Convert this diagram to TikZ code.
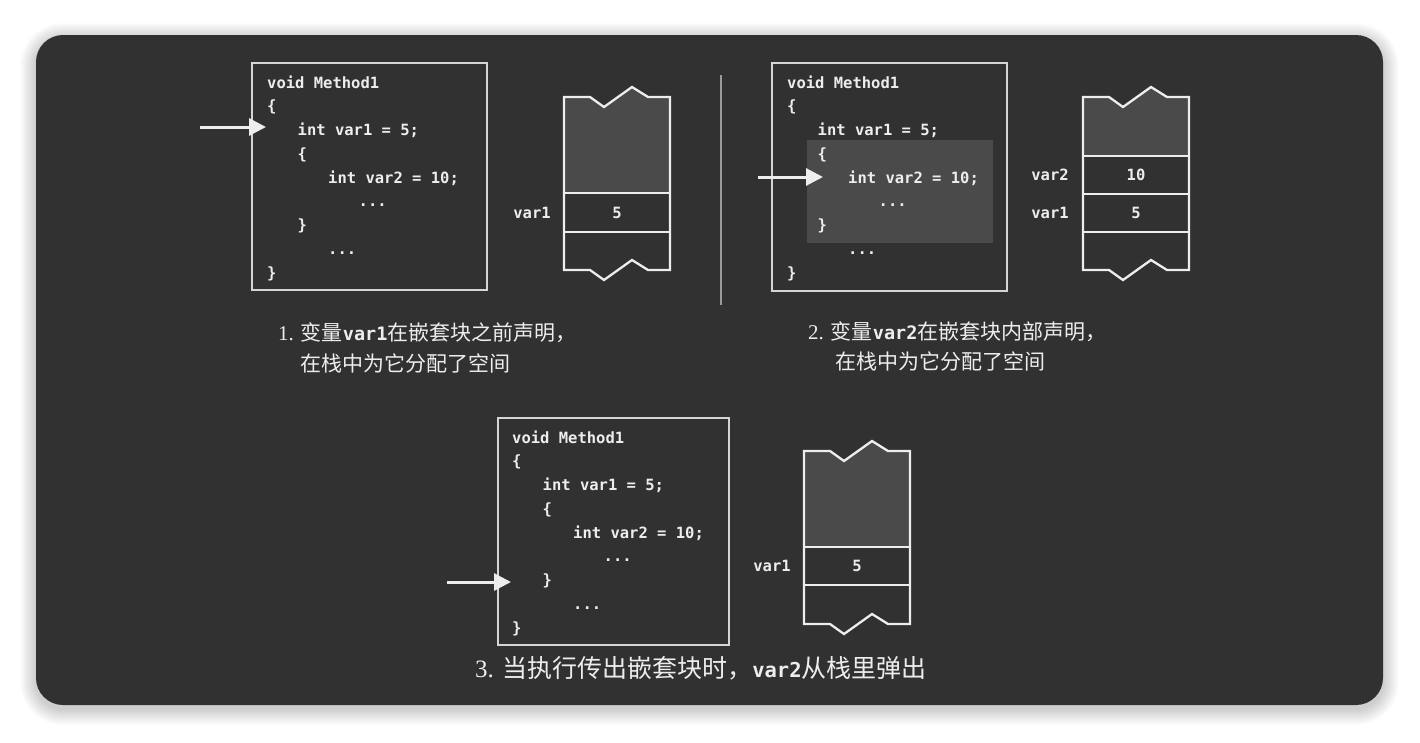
\documentclass[tikz,border=0pt]{standalone}
\usepackage{fontspec}
\setmainfont{Liberation Serif}
\setmonofont{DejaVu Sans Mono}
\newfontfamily\cjk{Noto Sans CJK SC}
\usetikzlibrary{arrows.meta}
\definecolor{bgdark}{HTML}{313131}
\definecolor{stackgray}{HTML}{4A4A4A}
\definecolor{ink}{HTML}{EDEDED}
\definecolor{sepgray}{HTML}{9A9A9A}

% code block: #1 prefix, #2 x of text, #3 y centre of first line
\newcommand\codeblock[3]{%
  \node[code] (#1l1) at (#2, #3+6) {void Method1};
  \node[code] (#1l2) at (#2, #3+6+23.75) {\{};
  \node[code] (#1l3) at (#2+30.5, #3+6+47.5) {int var1 = 5;};
  \node[code] (#1l4) at (#2+30.5, #3+6+71.25) {\{};
  \node[code] (#1l5) at (#2+61, #3+6+95) {int var2 = 10;};
  \node[code] (#1l6) at (#2+91.5, #3+6+118.75) {...};
  \node[code] (#1l7) at (#2+30.5, #3+6+142.5) {\}};
  \node[code] (#1l8) at (#2+61, #3+6+166.25) {...};
  \node[code] (#1l9) at (#2, #3+6+190) {\}};
}
% stack: #1 left x, #2 top y, #3 bottom of grey area
\newcommand\stackfig[3]{%
  \fill[stackgray] (#1,#2) -- (#1+26,#2) -- (#1+40,#2+10) -- (#1+68,#2-10) -- (#1+84,#2)
     -- (#1+106,#2) -- (#1+106,#3) -- (#1,#3) -- cycle;
  \draw[stackline] (#1,#2) -- (#1+26,#2) -- (#1+40,#2+10) -- (#1+68,#2-10) -- (#1+84,#2)
     -- (#1+106,#2) -- (#1+106,#2+173) -- (#1+84,#2+173) -- (#1+68,#2+163) -- (#1+40,#2+183)
     -- (#1+26,#2+173) -- (#1,#2+173) -- cycle;
}

\begin{document}
\begin{tikzpicture}[x=1pt,y=-1pt,
  code/.style={anchor=base west, inner sep=0pt, text=ink, font=\ttfamily\bfseries\fontsize{15.5}{15.5}\selectfont},
  lbl/.style={inner sep=0pt, text=ink, font=\ttfamily\bfseries\fontsize{15.5}{15.5}\selectfont},
  codebox/.style={draw=ink!90!black, line width=1.8pt, inner sep=0pt},
  stackline/.style={draw=ink, line width=2.3pt, line join=miter},
  divider/.style={draw=ink, line width=2.3pt},
  ptr/.style={draw=ink, line width=3pt, -{Triangle[length=17pt,width=17pt]}},
  capt/.style={anchor=west, inner sep=0pt, text=ink, font=\fontsize{21}{21}\selectfont},
  captb/.style={anchor=west, inner sep=0pt, text=ink, font=\fontsize{25}{25}\selectfont},
]
\useasboundingbox (0,0) rectangle (1420,742);
\fill[white] (0,0) rectangle (1420,742);
% soft shadow
\foreach \s in {1,...,16}{
  \fill[black, opacity=0.012, rounded corners=27+\s] (36-\s,35-\s+4) rectangle (1383+\s,705+\s+4);
}
\fill[bgdark, rounded corners=27] (36,35) rectangle (1383,705);

% ---------- panel 1 ----------
\node[codebox, minimum width=235pt, minimum height=227pt] (box1) at (369.5,176.5) {};
\codeblock{a}{267}{82}
\coordinate (p1s) at (200,127);
\coordinate (p1e) at (266,127);
\draw[ptr] (p1s) -- (p1e);
\stackfig{564}{97}{193}
\draw[divider] (564,193) -- (670,193);
\draw[divider] (564,232) -- (670,232);
\node[lbl] (s1v1) at (617,213) {5};
\node[lbl] (s1n1) at (532,213) {var1};

% separator
\coordinate (sepA) at (721,75);
\coordinate (sepB) at (721,305);
\draw[sepgray, line width=1.4pt] (sepA) -- (sepB);

% ---------- panel 2 ----------
\fill[stackgray] (807,140) rectangle (993,243);
\node[codebox, minimum width=235pt, minimum height=228pt] (box2) at (889.5,177) {};
\codeblock{b}{787}{82}
\coordinate (p2s) at (758,177);
\coordinate (p2e) at (823,177);
\draw[ptr] (p2s) -- (p2e);
\stackfig{1083}{97}{156}
\draw[divider] (1083,156) -- (1189,156);
\draw[divider] (1083,194) -- (1189,194);
\draw[divider] (1083,232) -- (1189,232);
\node[lbl] (s2v2) at (1136,175) {10};
\node[lbl] (s2v1) at (1136,213) {5};
\node[lbl] (s2n2) at (1050,175) {var2};
\node[lbl] (s2n1) at (1050,213) {var1};

% ---------- panel 3 ----------
\node[codebox, minimum width=231pt, minimum height=227pt] (box3) at (613.5,531.5) {};
\codeblock{c}{512}{437}
\coordinate (p3s) at (447,582);
\coordinate (p3e) at (511,582);
\draw[ptr] (p3s) -- (p3e);
\stackfig{804}{451}{547}
\draw[divider] (804,547) -- (910,547);
\draw[divider] (804,585) -- (910,585);
\node[lbl] (s3v1) at (857,566) {5};
\node[lbl] (s3n1) at (772,566) {var1};

% ---------- captions ----------
\node[capt] (c1a) at (278,333) {1. {\cjk 变量}{\ttfamily\bfseries\fontsize{18.5}{18.5}\selectfont var1}{\cjk 在嵌套块之前声明，}};
\node[capt] (c1b) at (300,363) {\cjk 在栈中为它分配了空间};
\node[capt] (c2a) at (808,332) {2. {\cjk 变量}{\ttfamily\bfseries\fontsize{18.5}{18.5}\selectfont var2}{\cjk 在嵌套块内部声明，}};
\node[capt] (c2b) at (835,361) {\cjk 在栈中为它分配了空间};
\node[captb] (c3) at (475,668) {3. {\cjk 当执行传出嵌套块时，}{\ttfamily\bfseries\fontsize{20.5}{20.5}\selectfont var2}{\cjk 从栈里弹出}};
\end{tikzpicture}
\end{document}
